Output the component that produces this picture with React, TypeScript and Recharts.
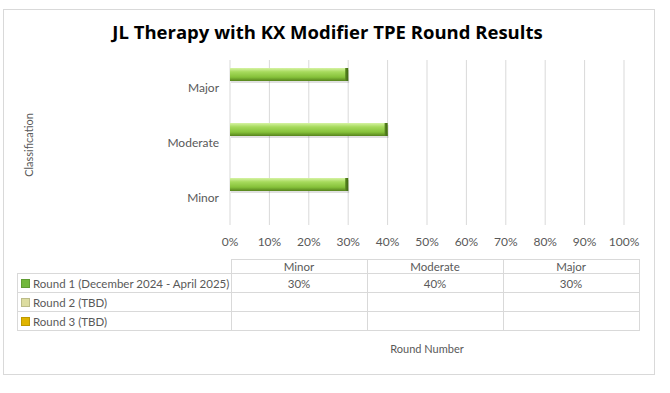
import { Bar, BarChart, CartesianGrid, XAxis, YAxis } from "recharts";

const categories = ["Minor", "Moderate", "Major"];
const seriesNames = ["Round 1 (December 2024 - April 2025)", "Round 2 (TBD)", "Round 3 (TBD)"];
const round1: (number | null)[] = [30, 40, 30];
const round2: (number | null)[] = [null, null, null];
const round3: (number | null)[] = [null, null, null];
const xTicks = [0, 10, 20, 30, 40, 50, 60, 70, 80, 90, 100];

const seriesKeys = ["r1", "r2", "r3"];
const seriesValues = [round1, round2, round3];
const legendColors = ["#72b83c", "#dcdca0", "#e0b400"];

const data = categories.map((name, i) => ({
  name,
  r1: round1[i],
  r2: round2[i],
  r3: round3[i],
}));

const FONT = "Lato, 'Open Sans', sans-serif";
const TEXT = "#595959";
const LINE = "#d9d9d9";

function BevelBar(props: any) {
  const { x, y, width, height } = props;
  if (!width || width <= 0 || !height) return null;
  return (
    <g>
      <rect x={x + 1} y={y + 2} width={width} height={height} fill="#000" opacity={0.12} />
      <rect x={x} y={y} width={width} height={height} fill="url(#barGrad)" />
      <rect x={x + width - 3} y={y} width={3} height={height} fill="url(#capGrad)" />
    </g>
  );
}

const cell = (extra: any = {}) => ({
  border: `1px solid ${LINE}`,
  padding: 0,
  fontSize: 11.5,
  color: TEXT,
  textAlign: "center" as const,
  ...extra,
});

export default function App() {
  return (
    <div style={{ position: "absolute", left: 0, top: 0, width: 670, height: 393, background: "#fff", fontFamily: FONT }}>
      <div style={{ position: "absolute", left: 3, top: 9, width: 650, height: 364, border: `1px solid ${LINE}` }} />
      <div
        style={{
          position: "absolute",
          left: 0,
          top: 19,
          width: 655,
          textAlign: "center",
          fontSize: 18.5,
          fontWeight: 700,
          color: "#000",
          fontFamily: "'Open Sans', sans-serif",
        }}
      >
        JL Therapy with KX Modifier TPE Round Results
      </div>
      <div
        style={{
          position: "absolute",
          left: 28,
          top: 145,
          transform: "translate(-50%, -50%) rotate(-90deg)",
          fontSize: 11,
          color: TEXT,
          whiteSpace: "nowrap",
        }}
      >
        Classification
      </div>
      <div style={{ position: "absolute", left: 0, top: 0 }}>
        <BarChart
          width={670}
          height={260}
          data={data}
          layout="vertical"
          margin={{ top: 60, right: 46, bottom: 5, left: 0 }}
          barCategoryGap={8}
          barGap={0}
        >
          <defs>
            <linearGradient id="barGrad" x1="0" x2="0" y1="0" y2="1">
              <stop offset="0%" stopColor="#d6f3a3" />
              <stop offset="30%" stopColor="#a6da5c" />
              <stop offset="70%" stopColor="#86c23a" />
              <stop offset="100%" stopColor="#56831c" />
            </linearGradient>
            <linearGradient id="capGrad" x1="0" x2="1" y1="0" y2="0">
              <stop offset="0%" stopColor="#5b8a22" />
              <stop offset="100%" stopColor="#3f6612" />
            </linearGradient>
          </defs>
          <CartesianGrid horizontal={false} stroke={LINE} />
          <XAxis
            type="number"
            domain={[0, 100]}
            ticks={xTicks}
            tickFormatter={(v: number) => `${v}%`}
            axisLine={false}
            tickLine={false}
            tickMargin={6}
            height={30}
            interval={0}
            tick={{ fontSize: 12, fill: TEXT, fontFamily: FONT }}
          />
          <YAxis
            type="category"
            dataKey="name"
            reversed
            width={230}
            axisLine={false}
            tickLine={false}
            tickMargin={5}
            tick={{ fontSize: 12, fill: TEXT, fontFamily: FONT }}
          />
          {seriesKeys.map((k, i) => (
            <Bar key={k} dataKey={k} name={seriesNames[i]} shape={<BevelBar />} isAnimationActive={false} />
          ))}
        </BarChart>
      </div>
      <table
        style={{
          position: "absolute",
          left: 17,
          top: 259,
          borderCollapse: "collapse",
          tableLayout: "fixed",
          fontFamily: FONT,
        }}
      >
        <tbody>
          <tr style={{ height: 14 }}>
            <td style={{ width: 213, padding: 0, border: "none", borderBottom: `1px solid ${LINE}` }} />
            {categories.map((c) => (
              <td key={c} style={cell({ width: 135 })}>{c}</td>
            ))}
          </tr>
          {seriesNames.map((s, si) => (
            <tr key={s} style={{ height: 19 }}>
              <td style={cell({ textAlign: "left", whiteSpace: "nowrap" })}>
                <span
                  style={{
                    display: "inline-block",
                    width: 7,
                    height: 7,
                    margin: "0 3px 0 3px",
                    background: legendColors[si],
                    border: "1px solid rgba(0,0,0,0.15)",
                  }}
                />
                {s}
              </td>
              {seriesValues[si].map((v, ci) => (
                <td key={ci} style={cell()}>{v == null ? "" : `${v}%`}</td>
              ))}
            </tr>
          ))}
        </tbody>
      </table>
      <div style={{ position: "absolute", left: 230, width: 394, top: 342, textAlign: "center", fontSize: 11, color: TEXT }}>
        Round Number
      </div>
    </div>
  );
}
